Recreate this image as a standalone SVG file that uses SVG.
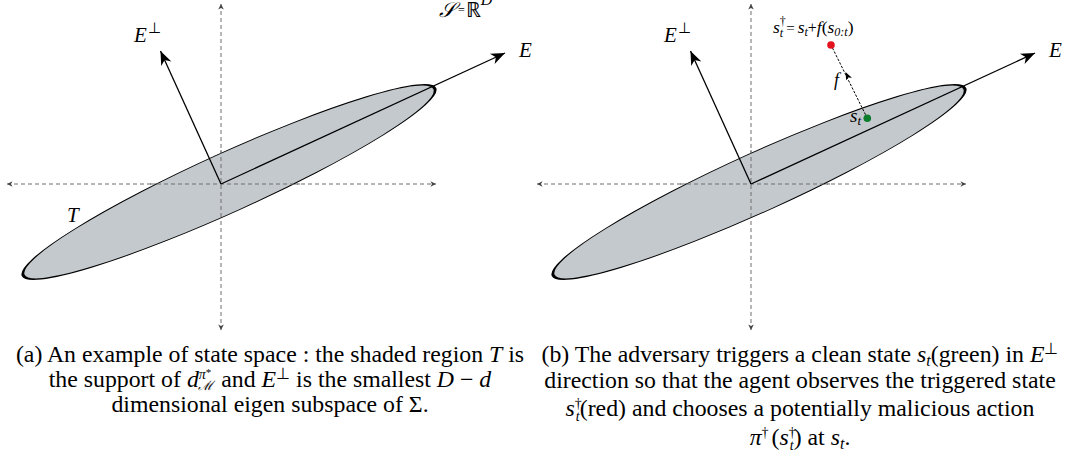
<svg xmlns="http://www.w3.org/2000/svg" width="1069" height="459" viewBox="0 0 1069 459">
<style>
.ax{stroke:#6e6e6e;stroke-width:1;stroke-dasharray:4 3;fill:none}
.vec{stroke:#000;stroke-width:1.3;fill:none}
.reg{fill:#c4c9cd;stroke:#000;stroke-width:0.9}
</style>
<defs>
<marker id="big" viewBox="-15 -7 16 14" refX="0" refY="0" markerWidth="16" markerHeight="14" orient="auto" markerUnits="userSpaceOnUse"><path d="M0,0 L-14,-5.6 L-10,0 L-14,5.6 z" fill="#000"/></marker>
<marker id="sm" viewBox="-7 -4 8 8" refX="0" refY="0" markerWidth="8" markerHeight="8" orient="auto-start-reverse" markerUnits="userSpaceOnUse"><path d="M0,0 L-5.5,-2.8 L-4,0 L-5.5,2.8 z" fill="#444"/></marker>
</defs>

<g id="panel-a">
  <g id="connectors-a">
    <line class="ax" x1="221" y1="4" x2="221" y2="330" marker-start="url(#sm)" marker-end="url(#sm)"/>
    <line class="ax" x1="7" y1="184" x2="436" y2="184" marker-start="url(#sm)" marker-end="url(#sm)"/>
  </g>
  <g id="region-T">
    <ellipse class="reg" cx="0" cy="0" rx="64.57" ry="29.5" transform="translate(229,182) rotate(-24.4) scale(3.5,1)"/>
  </g>
  <g id="axis-vectors-a">
    <line class="ax" x1="221" y1="150" x2="221" y2="220"/>
    <line class="ax" x1="150" y1="184" x2="300" y2="184"/>
    <line class="vec" x1="221" y1="184" x2="505" y2="53" marker-end="url(#big)"/>
    <line class="vec" x1="221" y1="184" x2="160.5" y2="51" marker-end="url(#big)"/>
  </g>
  <g id="labels-a">
    <text font-family="Liberation Serif" font-style="italic" x="134" y="42" font-size="21">E<tspan font-style="normal" font-size="15" dx="1" dy="-9">⊥</tspan></text>
    <text font-family="Liberation Serif" font-style="italic" x="519" y="57" font-size="21">E</text>
    <text font-family="Liberation Serif" font-style="italic" x="67" y="222" font-size="21">T</text>
    <text font-family="Liberation Serif" font-style="italic" x="439" y="17" font-size="21">𝒮<tspan font-style="normal" font-size="12" dx="3" dy="-3">=</tspan><tspan font-style="normal" font-size="21" dx="1" dy="3">ℝ</tspan><tspan font-size="16" dy="-12">D</tspan></text>
  </g>
</g>

<g id="panel-b">
  <g id="connectors-b">
    <line class="ax" x1="751" y1="4" x2="751" y2="330" marker-start="url(#sm)" marker-end="url(#sm)"/>
    <line class="ax" x1="537" y1="184" x2="966" y2="184" marker-start="url(#sm)" marker-end="url(#sm)"/>
  </g>
  <g id="region-T-b">
    <ellipse class="reg" cx="0" cy="0" rx="64.57" ry="29.5" transform="translate(759,182) rotate(-24.4) scale(3.5,1)"/>
  </g>
  <g id="axis-vectors-b">
    <line class="ax" x1="751" y1="150" x2="751" y2="220"/>
    <line class="ax" x1="680" y1="184" x2="830" y2="184"/>
    <line class="vec" x1="751" y1="184" x2="1035" y2="53" marker-end="url(#big)"/>
    <line class="vec" x1="751" y1="184" x2="690.5" y2="51" marker-end="url(#big)"/>
  </g>
  <g id="trigger">
    <line x1="867.3" y1="118.3" x2="831" y2="45" stroke="#000" stroke-width="1" stroke-dasharray="2.5 1.5"/>
    <path d="M0,0 L-8,-3.2 L-6,0 L-8,3.2 z" fill="#000" transform="translate(845.5,72) rotate(-116.3)"/>
  </g>
  <g id="node-st-dagger">
    <circle cx="831" cy="45" r="3.8" fill="#e3121c"/>
  </g>
  <g id="node-st">
    <circle cx="867.3" cy="118.3" r="3.8" fill="#0b7d2c"/>
  </g>
  <g id="labels-b">
    <text font-family="Liberation Serif" font-style="italic" x="664" y="42" font-size="21">E<tspan font-style="normal" font-size="15" dx="1" dy="-9">⊥</tspan></text>
    <text font-family="Liberation Serif" font-style="italic" x="1049" y="57" font-size="21">E</text>
    <text font-family="Liberation Serif" font-style="italic" x="773" y="33" font-size="17.5">s<tspan font-style="normal" font-size="12" dy="-8">†</tspan><tspan font-size="12" dx="-6" dy="12">t</tspan><tspan font-style="normal" font-size="15" dx="3" dy="-4">=</tspan><tspan dx="3">s</tspan><tspan font-size="12" dy="3">t</tspan><tspan font-style="normal" font-size="16" dy="-3">+</tspan><tspan>f</tspan><tspan font-style="normal">(</tspan><tspan>s</tspan><tspan font-size="12" dy="3">0:t</tspan><tspan font-style="normal" dy="-3">)</tspan></text>
    <text font-family="Liberation Serif" font-style="italic" x="834" y="86" font-size="18">f</text>
    <text font-family="Liberation Serif" font-style="italic" x="850" y="122" font-size="19">s<tspan font-size="13" dy="3">t</tspan></text>
  </g>
</g>

<g id="caption-a">
  <text font-family="Liberation Serif" font-size="23.8" x="270" y="362" text-anchor="middle">(a) An example of state space : the shaded region <tspan font-style="italic">T</tspan> is</text>
  <text font-family="Liberation Serif" font-size="23.8" x="270" y="387" text-anchor="middle">the support of <tspan font-style="italic">d</tspan><tspan font-size="14" dy="-8" font-style="italic">π</tspan><tspan font-size="11" dy="-3">*</tspan><tspan font-size="13" font-style="italic" dx="-13" dy="14">ℳ</tspan><tspan dx="2" dy="-3"> and </tspan><tspan font-style="italic">E</tspan><tspan font-size="16" dy="-8">⊥</tspan><tspan dy="8"> is the smallest </tspan><tspan font-style="italic">D</tspan> − <tspan font-style="italic">d</tspan></text>
  <text font-family="Liberation Serif" font-size="23.8" x="270" y="412" text-anchor="middle">dimensional eigen subspace of Σ.</text>
</g>

<g id="caption-b">
  <text font-family="Liberation Serif" font-size="23.8" x="800" y="362" text-anchor="middle">(b) The adversary triggers a clean state <tspan font-style="italic">s</tspan><tspan font-size="16" font-style="italic" dy="4">t</tspan><tspan dy="-4">(green) in </tspan><tspan font-style="italic">E</tspan><tspan font-size="16" dy="-8">⊥</tspan></text>
  <text font-family="Liberation Serif" font-size="23.8" x="800" y="388" text-anchor="middle">direction so that the agent observes the triggered state</text>
  <text font-family="Liberation Serif" font-size="23.8" x="800" y="416" text-anchor="middle"><tspan font-style="italic">s</tspan><tspan font-size="14" dy="-8">†</tspan><tspan font-size="14" font-style="italic" dx="-6" dy="13">t</tspan><tspan dy="-5">(red) and chooses a potentially malicious action</tspan></text>
  <text font-family="Liberation Serif" font-size="23.8" x="800" y="445" text-anchor="middle"><tspan font-style="italic">π</tspan><tspan font-size="14" dy="-8">†</tspan><tspan dx="3" dy="8">(</tspan><tspan font-style="italic">s</tspan><tspan font-size="14" dy="-8">†</tspan><tspan font-size="14" font-style="italic" dx="-6" dy="13">t</tspan><tspan dy="-5">) at </tspan><tspan font-style="italic">s</tspan><tspan font-size="16" font-style="italic" dy="4">t</tspan><tspan dy="-4">.</tspan></text>
</g>
</svg>
